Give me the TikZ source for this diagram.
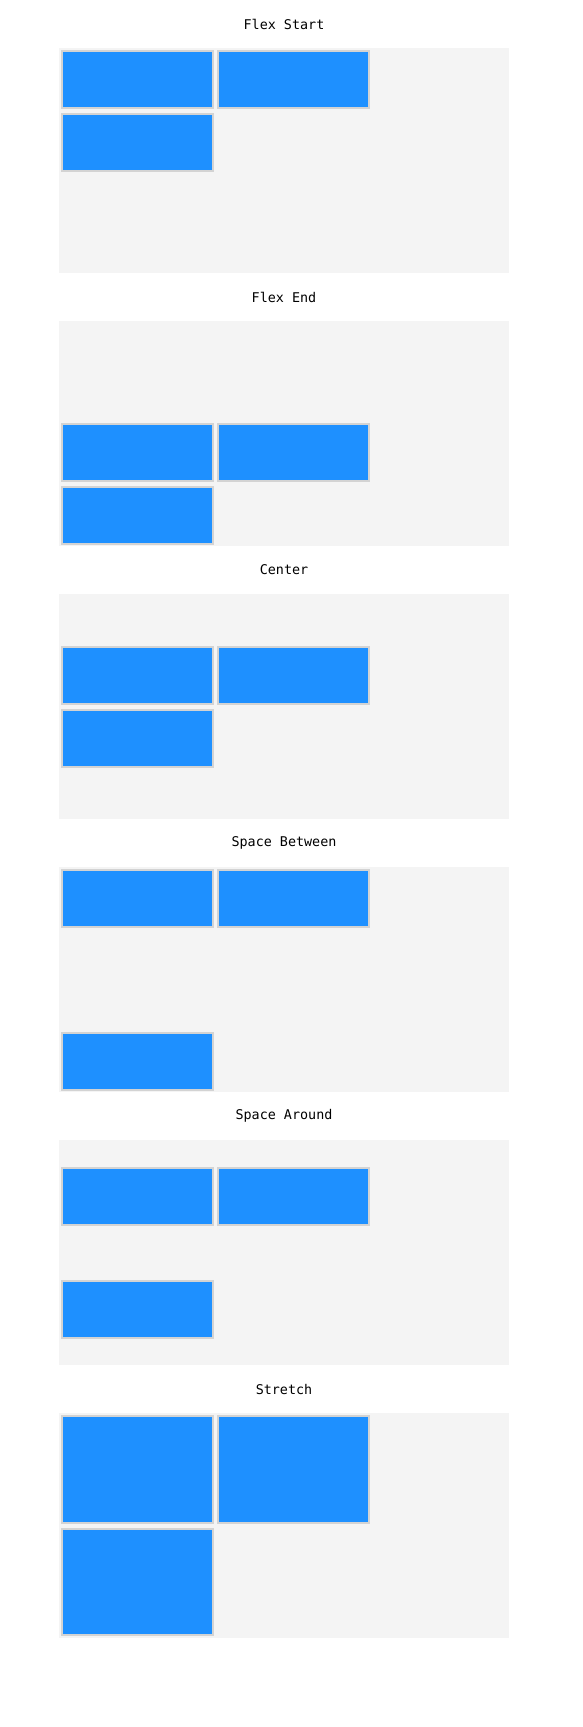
\documentclass[tikz,border=0pt]{standalone}
\usepackage{fontspec}
\setmonofont{DejaVu Sans Mono}
\usepackage{tikz}
\usetikzlibrary{positioning}
\usepackage{xcolor}
\definecolor{itemblue}{RGB}{30,144,255}
\definecolor{itemedge}{RGB}{211,211,211}
\definecolor{panelgray}{RGB}{244,244,244}
\tikzset{
  panel/.style={rectangle, fill=panelgray, anchor=north west,
    minimum width=450pt, minimum height=225pt, inner sep=0pt, outer sep=0pt},
  item/.style={rectangle, draw=itemedge, fill=itemblue, line width=2pt,
    anchor=north west, minimum width=151pt, minimum height=57pt,
    inner sep=0pt, outer sep=0pt},
  itemT/.style={item, minimum height=106.5pt},
  ttl/.style={font=\ttfamily\fontsize{13.4}{16}\selectfont, inner sep=0pt},
}

\begin{document}
\begin{tikzpicture}[x=1pt, y=-1pt]
  \useasboundingbox (0,0) rectangle (582,1727);

  % -- Flex Start --
  \begin{scope}[yshift=0pt]
    \node[ttl] (tStart) at (284,24) {Flex Start};
    \node[panel] (pStart) at (59,48) {};
    \node[item] (s1) at (62,51) {};
    \node[item] (s2) at (218,51) {};
    \node[item] (s3) at (62,113.5) {};
  \end{scope}

  % -- Flex End --
  \begin{scope}[yshift=-273pt]
    \node[ttl] (tEnd) at (284,24) {Flex End};
    \node[panel] (pEnd) at (59,48) {};
    \node[item] (e1) at (62,151) {};
    \node[item] (e2) at (218,151) {};
    \node[item] (e3) at (62,213.5) {};
  \end{scope}

  % -- Center --
  \begin{scope}[yshift=-546pt]
    \node[ttl] (tCenter) at (284,24) {Center};
    \node[panel] (pCenter) at (59,48) {};
    \node[item] (c1) at (62,101) {};
    \node[item] (c2) at (218,101) {};
    \node[item] (c3) at (62,163.5) {};
  \end{scope}

  % -- Space Between --
  \begin{scope}[yshift=-819pt]
    \node[ttl] (tBetween) at (284,24) {Space Between};
    \node[panel] (pBetween) at (59,48) {};
    \node[item] (b1) at (62,51) {};
    \node[item] (b2) at (218,51) {};
    \node[item] (b3) at (62,213.5) {};
  \end{scope}

  % -- Space Around --
  \begin{scope}[yshift=-1092pt]
    \node[ttl] (tAround) at (284,24) {Space Around};
    \node[panel] (pAround) at (59,48) {};
    \node[item] (a1) at (62,76) {};
    \node[item] (a2) at (218,76) {};
    \node[item] (a3) at (62,188.5) {};
  \end{scope}

  % -- Stretch --
  \begin{scope}[yshift=-1365pt]
    \node[ttl] (tStretch) at (284,24) {Stretch};
    \node[panel] (pStretch) at (59,48) {};
    \node[itemT] (r1) at (62,51) {};
    \node[itemT] (r2) at (218,51) {};
    \node[itemT] (r3) at (62,163.5) {};
  \end{scope}
\end{tikzpicture}
\end{document}
